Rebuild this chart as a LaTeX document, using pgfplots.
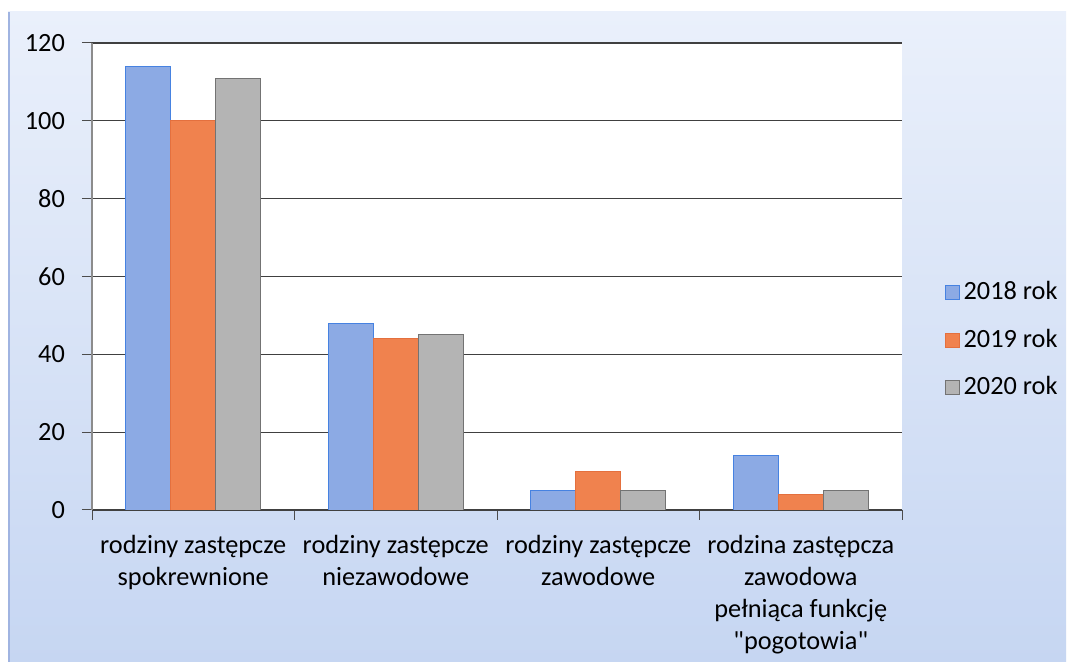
\documentclass[border=0pt]{standalone}
\usepackage{fontspec}
\setmainfont{Carlito}[Ligatures=TeXOff]
\usepackage{pgfplots}
\pgfplotsset{compat=1.18}
\definecolor{bgtop}{RGB}{234,240,251}
\definecolor{bgbot}{RGB}{198,214,242}
\definecolor{bgedge}{RGB}{160,180,225}
\definecolor{c18}{RGB}{140,170,228}
\definecolor{c18e}{RGB}{70,130,225}
\definecolor{c19}{RGB}{240,130,78}
\definecolor{c19e}{RGB}{228,112,62}
\definecolor{c20}{RGB}{180,180,180}
\definecolor{c20e}{RGB}{115,115,115}
\begin{document}
\fontsize{13.2}{16}\selectfont
\begin{tikzpicture}
\begin{scope}[x=0.5bp,y=0.5bp]
\useasboundingbox (0,0) rectangle (1070,666);
\fill[white] (0,0) rectangle (1070,666);
\shade[top color=bgtop,bottom color=bgbot] (8,4) rectangle (1066,654);
\draw[bgedge,line width=1.2bp] (9,4) -- (9,654);
\end{scope}
\begin{axis}[
    at={(46bp,78bp)}, anchor=south west,
    scale only axis,
    width=405bp, height=233.5bp,
    ybar=0pt, bar width=0.222,
    xmin=-0.5, xmax=3.5,
    ymin=0, ymax=120,
    ytick={0,20,...,120},
    xtick={0,1,2,3},
    xticklabels={{rodziny zastępcze\\spokrewnione},
                 {rodziny zastępcze\\niezawodowe},
                 {rodziny zastępcze\\zawodowe},
                 {rodzina zastępcza\\zawodowa\\pełniąca funkcję\\"pogotowia"}},
    minor xtick={-0.5,0.5,1.5,2.5,3.5},
    xticklabel style={align=center, yshift=-3bp, font=\fontsize{13.2}{16}\selectfont},
    yticklabel style={xshift=-4bp},
    /pgf/number format/assume math mode=true,
    axis x line*=bottom, axis y line*=left,
    tick align=outside,
    major tick length=5bp, minor tick length=5bp,
    major x tick style={draw=none},
    tick style={black!70, line width=0.5pt},
    x axis line style={black!75, line width=0.6pt},
    y axis line style={black!45, line width=0.6pt},
    ymajorgrids,
    grid style={black!75, line width=0.6pt},
    axis background/.style={fill=white},
    legend style={draw=none, fill=none, at={(rel axis cs:1.045,0.364)}, anchor=west,
        row sep=8.5bp, font=\fontsize{13.2}{15}\selectfont,
        /tikz/every even column/.append style={column sep=2bp}},
    legend cell align=left,
    legend image code/.code={\draw[#1,line width=0.4pt] (0bp,-3.5bp) rectangle (7bp,3.5bp);},
]
\addplot[fill=c18, draw=c18e] coordinates {(0,114) (1,48) (2,5) (3,14)};
\addplot[fill=c19, draw=c19e] coordinates {(0,100) (1,44) (2,10) (3,4)};
\addplot[fill=c20, draw=c20e] coordinates {(0,111) (1,45) (2,5) (3,5)};
\legend{2018 rok, 2019 rok, 2020 rok}
\end{axis}
\end{tikzpicture}
\end{document}
